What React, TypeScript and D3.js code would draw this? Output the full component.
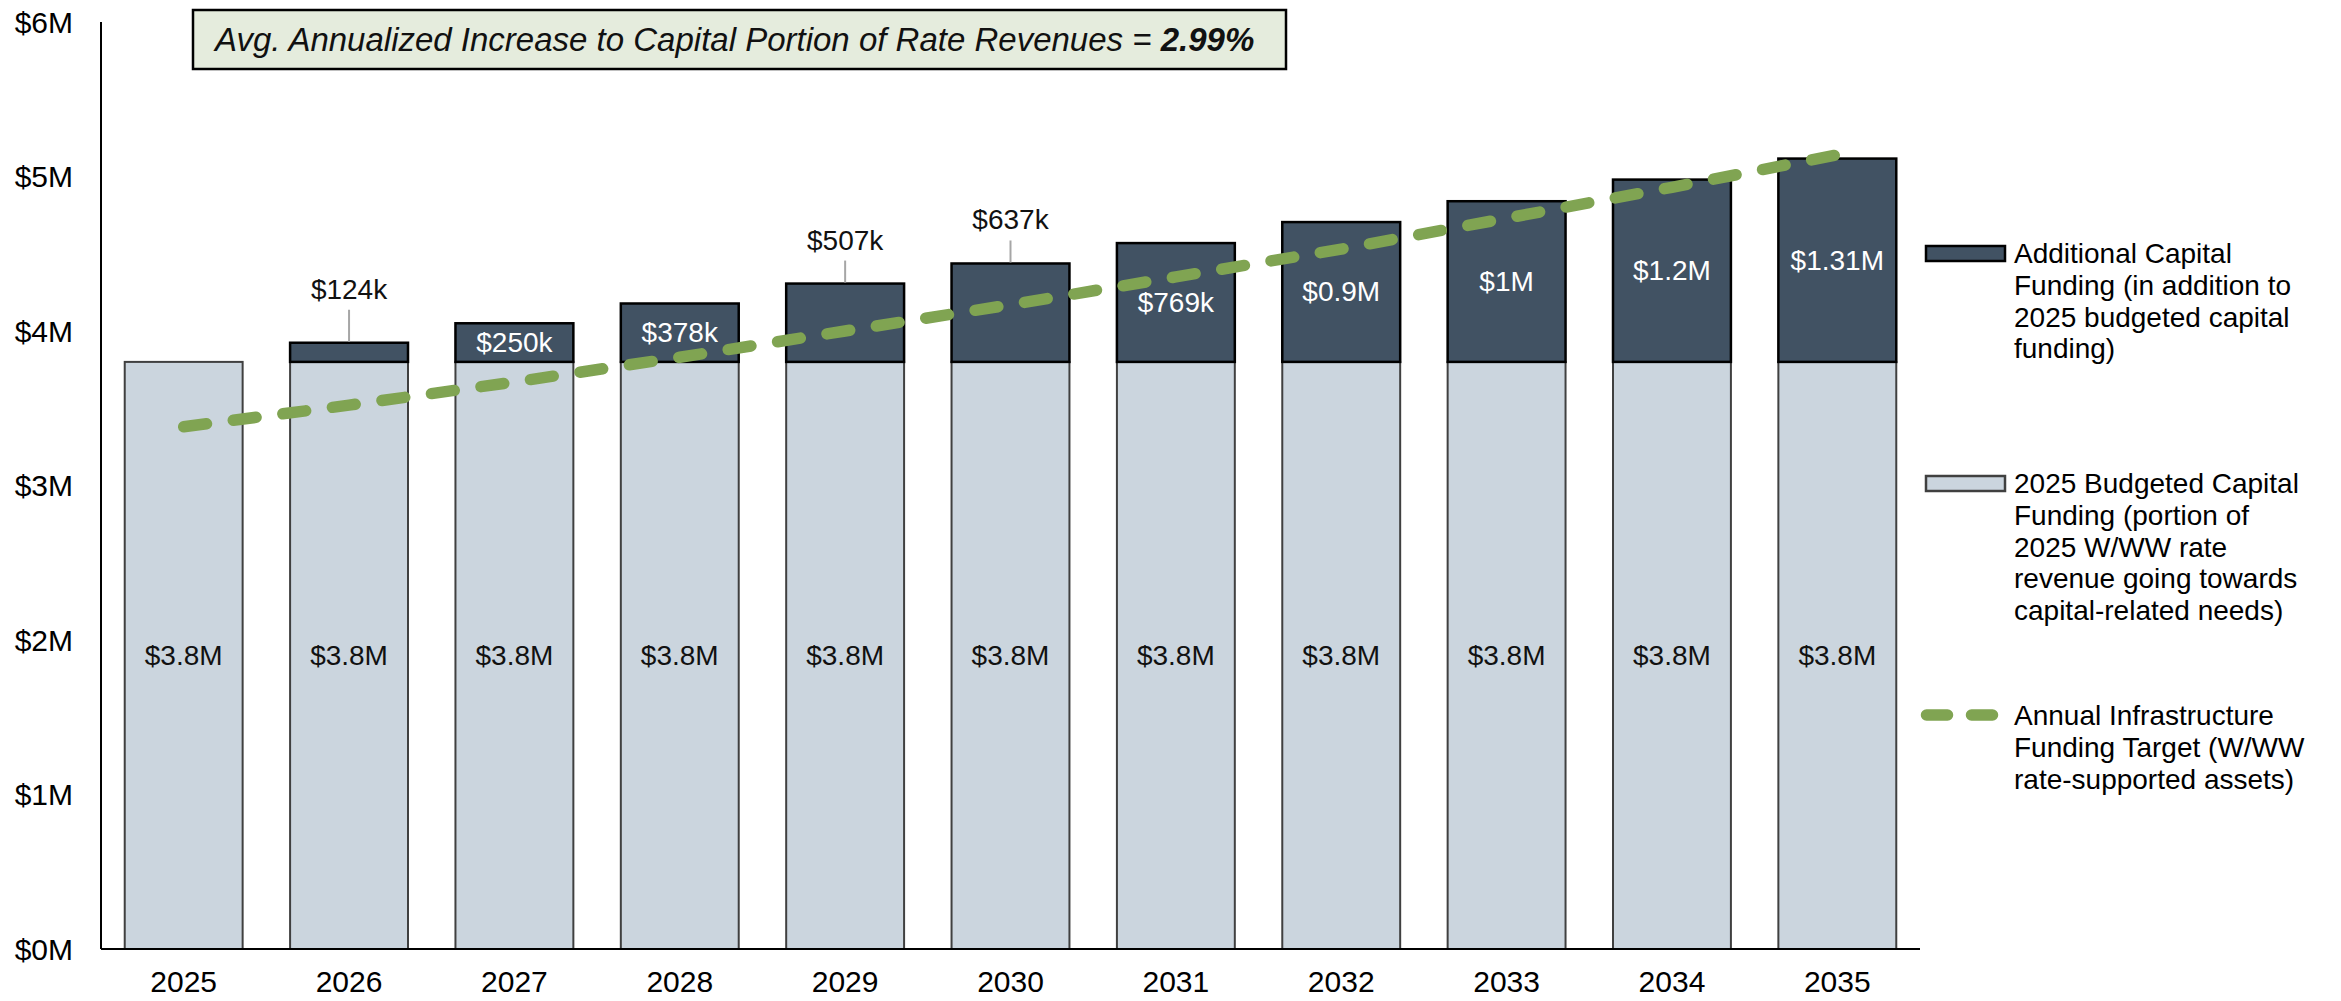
import * as d3 from "d3";

// ─────────────────────────────────────────────────────────────
// DATA
// ─────────────────────────────────────────────────────────────
const years = ["2025", "2026", "2027", "2028", "2029", "2030", "2031", "2032", "2033", "2034", "2035"];

// 2025 budgeted capital funding ($M), flat every year
const budgetedBase = [3.8, 3.8, 3.8, 3.8, 3.8, 3.8, 3.8, 3.8, 3.8, 3.8, 3.8];
const baseLabels = ["$3.8M", "$3.8M", "$3.8M", "$3.8M", "$3.8M", "$3.8M", "$3.8M", "$3.8M", "$3.8M", "$3.8M", "$3.8M"];

// additional capital funding on top of the base ($M)
const additionalFunding = [0, 0.124, 0.25, 0.378, 0.507, 0.637, 0.769, 0.905, 1.04, 1.18, 1.316];
const additionalLabels = ["", "$124k", "$250k", "$378k", "$507k", "$637k", "$769k", "$0.9M", "$1M", "$1.2M", "$1.31M"];

// years whose label sits above the bar with a leader line
const calloutYears = ["2026", "2029", "2030"];

// annual infrastructure funding target ($M)
const fundingTarget = [3.38, 3.52, 3.67, 3.83, 4.0, 4.17, 4.35, 4.53, 4.73, 4.93, 5.14];

const yTicks = [0, 1, 2, 3, 4, 5, 6];
const yTickLabels = ["$0M", "$1M", "$2M", "$3M", "$4M", "$5M", "$6M"];

const titleText = "Avg. Annualized Increase to Capital Portion of Rate Revenues = ";
const titleValue = "2.99%";

const legendAdditional = ["Additional Capital", "Funding (in addition to", "2025 budgeted capital", "funding)"];
const legendBase = ["2025 Budgeted Capital", "Funding (portion of", "2025 W/WW rate", "revenue going towards", "capital-related needs)"];
const legendTarget = ["Annual Infrastructure", "Funding Target (W/WW", "rate-supported assets)"];

// ─────────────────────────────────────────────────────────────
// LAYOUT / STYLE
// ─────────────────────────────────────────────────────────────
const W = 2341;
const H = 1001;
const plot = { left: 101, right: 1920, top: 22, bottom: 949 };

const FONT = "'Liberation Sans', Arial, Helvetica, sans-serif";
const DARK = "#415263";
const LIGHT = "#CBD5DE";
const GREEN = "#80A452";

// leader length above the bar for callout labels
const leaderLen: Record<string, number> = { "2026": 32, "2029": 22, "2030": 22 };

const x = d3.scaleBand<string>()
  .domain(years)
  .range([plot.left, plot.right])
  .paddingInner(0.287)
  .paddingOuter(0.1435);

const y = d3.scaleLinear().domain([0, 6]).range([plot.bottom, plot.top]);

const bw = x.bandwidth();
const cx = (yr: string) => (x(yr) as number) + bw / 2;

const targetLine = d3.line<number>()
  .x((_, i) => cx(years[i]))
  .y(d => y(d))(fundingTarget);

const legendX = 2014;
const legendLH = 31.8;

export default function App() {
  return (
    <div style={{ position: "absolute", left: 0, top: 0, width: W, height: H, background: "#fff" }}>
      <svg width={W} height={H} viewBox={`0 0 ${W} ${H}`} style={{ display: "block" }} fontFamily={FONT}>

        {/* ── base bars ── */}
        {years.map((yr, i) => (
          <rect key={"b" + yr}
            x={x(yr)} width={bw}
            y={y(budgetedBase[i])} height={y(0) - y(budgetedBase[i])}
            fill={LIGHT} stroke="#404040" strokeWidth={2} />
        ))}

        {/* ── additional funding bars ── */}
        {years.map((yr, i) => additionalFunding[i] > 0 && (
          <rect key={"a" + yr}
            x={x(yr)} width={bw}
            y={y(budgetedBase[i] + additionalFunding[i])}
            height={y(budgetedBase[i]) - y(budgetedBase[i] + additionalFunding[i])}
            fill={DARK} stroke="#000" strokeWidth={2.5} />
        ))}

        {/* ── base labels ── */}
        {years.map((yr, i) => (
          <text key={"bl" + yr}
            x={cx(yr)} y={(y(0) + y(budgetedBase[i])) / 2}
            textAnchor="middle" dominantBaseline="central"
            fontSize={28} fill="#111">
            {baseLabels[i]}
          </text>
        ))}

        {/* ── additional labels: inside, or above with a leader ── */}
        {years.map((yr, i) => {
          if (!additionalLabels[i]) return null;
          const top = y(budgetedBase[i] + additionalFunding[i]);
          if (calloutYears.includes(yr)) {
            const len = leaderLen[yr];
            return (
              <g key={"al" + yr}>
                <line x1={cx(yr)} x2={cx(yr)} y1={top - 1} y2={top - 1 - len}
                  stroke="#A6A6A6" strokeWidth={2} />
                <text x={cx(yr)} y={top - len - 12}
                  textAnchor="middle" fontSize={28} fill="#111">
                  {additionalLabels[i]}
                </text>
              </g>
            );
          }
          return (
            <text key={"al" + yr}
              x={cx(yr)} y={(top + y(budgetedBase[i])) / 2}
              textAnchor="middle" dominantBaseline="central"
              fontSize={28} fill="#fff">
              {additionalLabels[i]}
            </text>
          );
        })}

        {/* ── axes ── */}
        <line x1={plot.left} x2={plot.left} y1={plot.top} y2={plot.bottom}
          stroke="#000" strokeWidth={2} />
        <line x1={plot.left} x2={plot.right} y1={plot.bottom} y2={plot.bottom}
          stroke="#000" strokeWidth={2} />

        {yTicks.map((t, i) => (
          <text key={"yt" + t}
            x={73} y={y(t)} textAnchor="end" dominantBaseline="central"
            fontSize={30} fill="#000">
            {yTickLabels[i]}
          </text>
        ))}

        {years.map(yr => (
          <text key={"xt" + yr}
            x={cx(yr)} y={992} textAnchor="middle"
            fontSize={30} fill="#000">
            {yr}
          </text>
        ))}

        {/* ── funding target line (drawn over labels) ── */}
        <path d={targetLine ?? ""} fill="none" stroke={GREEN} strokeWidth={11.5}
          strokeLinecap="round" strokeDasharray="23 27" />

        {/* ── title box ── */}
        <rect x={193} y={10} width={1093} height={59} fill="#E5ECDD"
          stroke="#000" strokeWidth={2.5} />
        <text x={215} y={51} fontSize={33} fontStyle="italic" fill="#111">
          {titleText}
          <tspan fontWeight="bold">{titleValue}</tspan>
        </text>

        {/* ── legend ── */}
        <rect x={1926} y={246} width={79} height={15} fill={DARK} stroke="#000" strokeWidth={2.5} />
        {legendAdditional.map((s, i) => (
          <text key={"la" + i} x={legendX} y={263 + i * legendLH} fontSize={28} fill="#000">{s}</text>
        ))}

        <rect x={1926} y={476} width={79} height={15} fill={LIGHT} stroke="#404040" strokeWidth={2.5} />
        {legendBase.map((s, i) => (
          <text key={"lb" + i} x={legendX} y={493 + i * legendLH} fontSize={28} fill="#000">{s}</text>
        ))}

        <line x1={1926.5} x2={1992.5} y1={715} y2={715} stroke={GREEN} strokeWidth={11.5}
          strokeLinecap="round" strokeDasharray="21 24" />
        {legendTarget.map((s, i) => (
          <text key={"lt" + i} x={legendX} y={725 + i * legendLH} fontSize={28} fill="#000">{s}</text>
        ))}
      </svg>
    </div>
  );
}
